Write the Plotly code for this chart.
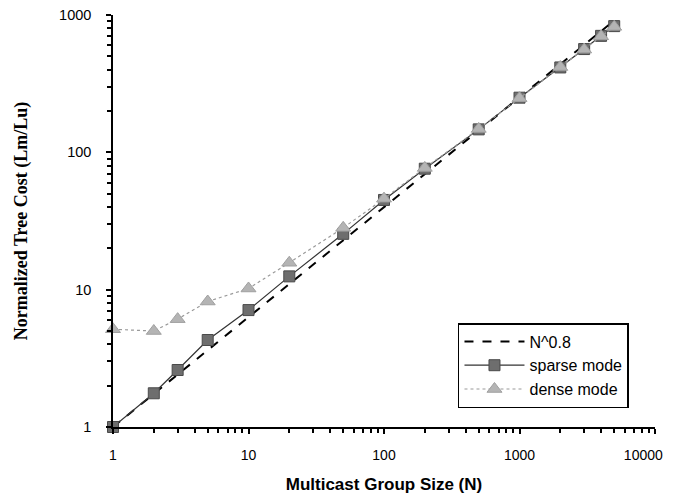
import plotly.graph_objects as go

group_size = [1, 2, 3, 5, 10, 20, 50, 100, 200, 500, 1000, 2000, 3000, 4000, 5000]
n_power = [1, 1.74, 2.41, 3.62, 6.31, 11.0, 22.9, 39.8, 69.3, 144, 251, 437, 605, 761, 912]
sparse_mode = [1, 1.76, 2.6, 4.3, 7.1, 12.5, 25.5, 45, 76, 147, 250, 415, 565, 705, 830]
dense_mode = [5.15, 5.0, 6.1, 8.2, 10.2, 15.7, 28.2, 46, 77, 148, 248, 418, 560, 700, 820]

x_tick_vals = [1, 10, 100, 1000, 10000]
x_tick_text = ["1", "10", "100", "1000", "10000\u00a0\u00a0\u00a0\u00a0\u00a0\u00a0"]
y_tick_vals = [1, 10, 100, 1000]
y_tick_text = ["1", "10", "100", "1000"]

x_minor = [m * 10 ** k for k in range(4) for m in range(2, 10)]
y_minor = [m * 10 ** k for k in range(3) for m in range(2, 10)]

fig = go.Figure()
fig.add_trace(go.Scatter(
    x=group_size, y=n_power, name="N^0.8", mode="lines",
    line=dict(color="black", width=2, dash="dash"), cliponaxis=False))
fig.add_trace(go.Scatter(
    x=group_size, y=sparse_mode, name="sparse mode", mode="lines+markers",
    line=dict(color="#333333", width=1.2),
    marker=dict(symbol="square", size=11, color="#6e6e6e",
                line=dict(color="#4a4a4a", width=1)),
    cliponaxis=False))
fig.add_trace(go.Scatter(
    x=group_size, y=dense_mode, name="dense mode", mode="lines+markers",
    line=dict(color="#9a9a9a", width=1.2, dash="dot"),
    marker=dict(symbol="triangle-up", size=13, color="#b4b4b4",
                line=dict(color="#a0a0a0", width=1)),
    cliponaxis=False))

axis_common = dict(
    type="log", showgrid=False, zeroline=False, showline=True,
    linecolor="black", linewidth=1.5, ticks="outside", ticklen=5,
    tickwidth=1.5, tickcolor="black", tickmode="array",
    automargin=False, ticklabeloverflow="allow",
    tickfont=dict(family="Liberation Sans, Arial", size=14.5, color="black"),
)

fig.update_layout(
    width=666, height=486,
    margin=dict(l=105, r=19, t=7, b=67),
    paper_bgcolor="white", plot_bgcolor="white",
    showlegend=True,
    legend=dict(
        x=0.6365, y=0.2524, xanchor="left", yanchor="top",
        bordercolor="black", borderwidth=1.5, bgcolor="white",
        font=dict(family="Liberation Sans, Arial", size=16, color="black"),
        itemwidth=60, tracegroupgap=0,
    ),
    xaxis=dict(axis_common, range=[0, 4], ticklabelstandoff=9,
               tickvals=x_tick_vals, ticktext=x_tick_text,
               tickfont=dict(family="Liberation Sans, Arial", size=14, color="black"),
               minor=dict(tickmode="array", tickvals=x_minor, ticks="outside", ticklen=4,
                          tickwidth=1.5, tickcolor="black", showgrid=False),
               title=dict(text="<b>Multicast Group Size (N)</b>", standoff=18,
                          font=dict(family="Liberation Sans, Arial", size=17, color="black"))),
    yaxis=dict(axis_common, range=[0, 3], ticklabelstandoff=12,
               tickvals=y_tick_vals, ticktext=y_tick_text,
               minor=dict(tickmode="array", tickvals=y_minor, ticks="outside", ticklen=4,
                          tickwidth=1.5, tickcolor="black", showgrid=False),
               title=dict(text="<b>Normalized Tree Cost (Lm/Lu)</b>", standoff=27,
                          font=dict(family="Liberation Serif, Times New Roman", size=18, color="black"))),
)

fig.write_html("out.html")
